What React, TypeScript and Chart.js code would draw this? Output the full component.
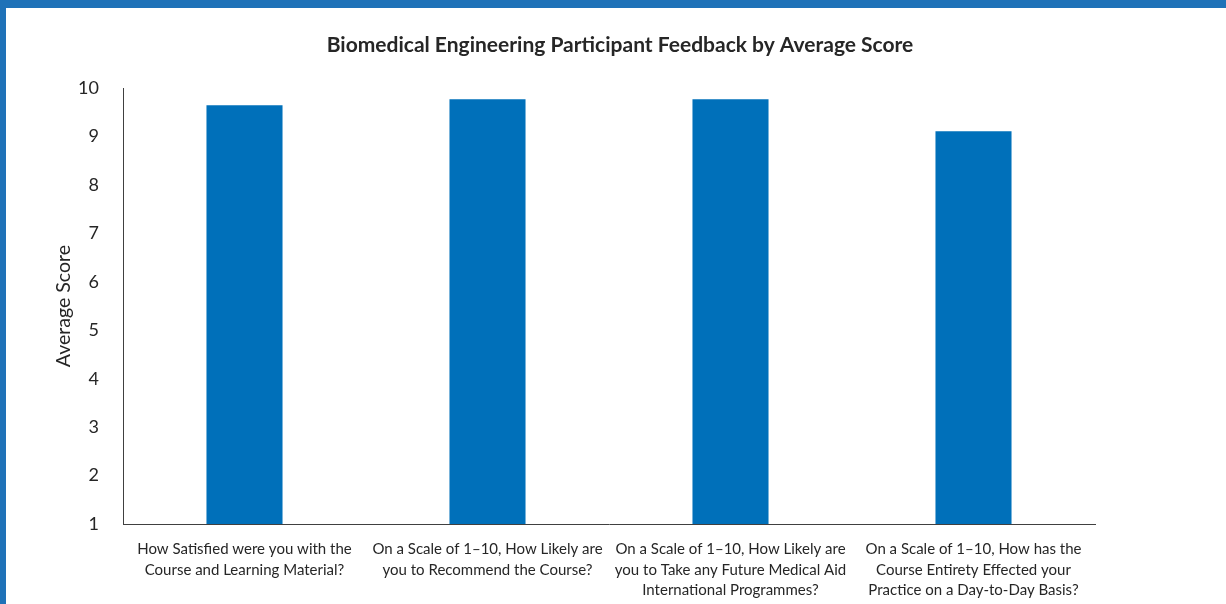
import React, { useEffect, useRef } from "react";
import { Chart, registerables } from "chart.js";

Chart.register(...registerables);

const categories: string[][] = [
  ["How Satisfied were you with the", "Course and Learning Material?"],
  ["On a Scale of 1\u201310, How Likely are", "you to Recommend the Course?"],
  ["On a Scale of 1\u201310, How Likely are", "you to Take any Future Medical Aid", "International Programmes?"],
  ["On a Scale of 1\u201310, How has the", "Course Entirety Effected your", "Practice on a Day-to-Day Basis?"],
];
const scores: number[] = [9.65, 9.77, 9.77, 9.11];
const chartTitle = "Biomedical Engineering Participant Feedback by Average Score";
const yAxisTitle = "Average Score";

const FONT = "Lato, 'Open Sans', sans-serif";

export default function App() {
  const ref = useRef<HTMLCanvasElement | null>(null);
  useEffect(() => {
    if (!ref.current) return;
    const chart = new Chart(ref.current, {
      type: "bar",
      data: {
        labels: categories,
        datasets: [
          {
            data: scores,
            backgroundColor: "#0070BA",
            borderWidth: 0,
            barPercentage: 1,
            categoryPercentage: 0.313,
          },
        ],
      },
      options: {
        responsive: false,
        animation: false,
        devicePixelRatio: 1,
        layout: { padding: { left: 8, right: 0, top: 0, bottom: 0 } },
        plugins: {
          legend: { display: false },
          tooltip: { enabled: false },
          title: {
            display: true,
            text: chartTitle,
            color: "#262626",
            font: { family: FONT, size: 21, weight: "bold", lineHeight: 1.2 },
            padding: { top: 25, bottom: 30 },
          },
        },
        scales: {
          x: {
            grid: { display: false, drawTicks: false },
            border: { display: true, color: "#404040", width: 1 },
            ticks: {
              color: "#262626",
              font: { family: FONT, size: 15, lineHeight: 1.37 },
              padding: 15,
              maxRotation: 0,
              autoSkip: false,
            },
            afterFit: (s: any) => {
              s.height = 80;
            },
          },
          y: {
            min: 1,
            max: 10,
            grid: { display: false, drawTicks: false },
            border: { display: true, color: "#404040", width: 1 },
            ticks: {
              stepSize: 1,
              color: "#262626",
              font: { family: FONT, size: 18 },
              padding: 24,
            },
            title: {
              display: true,
              text: yAxisTitle,
              color: "#262626",
              font: { family: FONT, size: 19.5, lineHeight: 1.2 },
              padding: { top: 38, bottom: 0 },
            },
            afterFit: (s: any) => {
              s.width = 109;
            },
          },
          yRight: {
            position: "right",
            display: true,
            grid: { display: false, drawTicks: false },
            border: { display: false },
            ticks: { display: false },
            afterFit: (s: any) => {
              s.width = 131;
            },
          },
        },
      },
    });
    return () => chart.destroy();
  }, []);

  return (
    <div
      style={{
        position: "fixed",
        left: 0,
        top: 0,
        width: 1226,
        height: 604,
        background: "#ffffff",
        boxSizing: "border-box",
        borderTop: "8px solid #1F72B8",
        borderLeft: "6px solid #1F72B8",
        overflow: "hidden",
      }}
    >
      <canvas ref={ref} width={1220} height={596} style={{ display: "block", width: 1220, height: 596 }} />
    </div>
  );
}
